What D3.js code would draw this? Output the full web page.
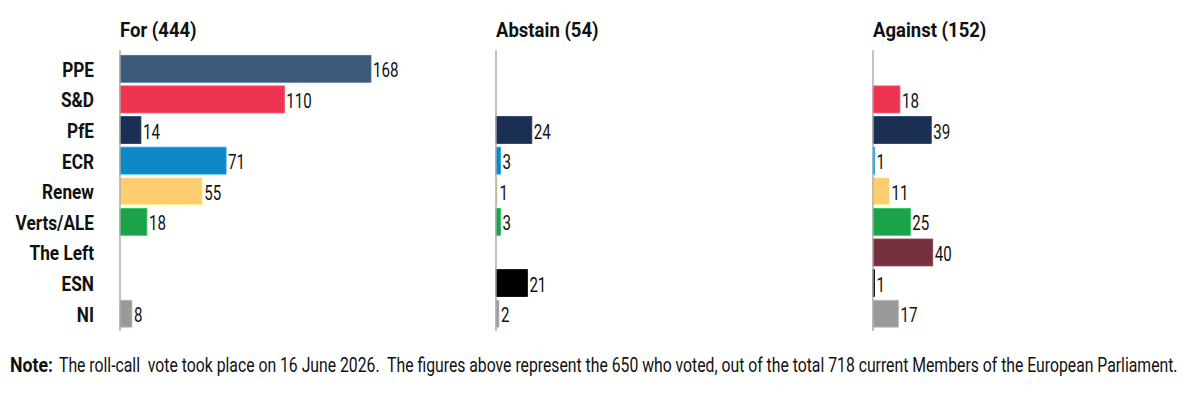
<!DOCTYPE html>
<html>
<head>
<meta charset="utf-8">
<script src="https://cdn.jsdelivr.net/npm/d3@7"></script>
<style>
  html, body { margin: 0; padding: 0; background: #ffffff; }
  svg { display: block; font-family: Roboto, "Noto Sans", sans-serif; }
</style>
</head>
<body>
<svg id="chart" width="1200" height="399"></svg>
<script>
const groups = ["PPE", "S&D", "PfE", "ECR", "Renew", "Verts/ALE", "The Left", "ESN", "NI"];
const groupColors = ["#3d5a7a", "#ee3450", "#1b2f55", "#0d88c6", "#ffcc70", "#1ca34a", "#74313d", "#000000", "#999999"];
const forVotes = [168, 110, 14, 71, 55, 18, 0, 0, 8];
const abstainVotes = [0, 0, 24, 3, 1, 3, 0, 21, 2];
const againstVotes = [0, 18, 39, 1, 11, 25, 40, 1, 17];
const panelTitles = ["For (444)", "Abstain (54)", "Against (152)"];
const noteLabel = "Note:";
const noteText = "The roll-call  vote took place on 16 June 2026.  The figures above represent the 650 who voted, out of the total 718 current Members of the European Parliament.";

const panels = [forVotes, abstainVotes, againstVotes];
const panelX = [120, 496, 873];

const svg = d3.select("#chart");

const y = d3.scaleBand().domain(groups).range([53.5, 329]).paddingInner(0.12).paddingOuter(0.06);
const x = d3.scaleLinear().domain([0, 168]).range([0, 251]);
const color = d3.scaleOrdinal().domain(groups).range(groupColors);

// horizontally compress text via transform (keeps real bounding boxes)
function squeeze(sel, f) {
  sel.each(function () {
    const x0 = +this.getAttribute("x") || 0;
    const y0 = +this.getAttribute("y") || 0;
    this.setAttribute("x", 0);
    this.setAttribute("y", 0);
    this.setAttribute("transform", `translate(${x0},${y0}) scale(${f},1)`);
  });
}
function fitWidth(sel, width) {
  sel.each(function () {
    const w = this.getComputedTextLength();
    d3.select(this).call(squeeze, width / w);
  });
}

// Row labels
const rowLabels = svg.append("g").selectAll("text")
  .data(groups).join("text")
  .attr("x", 94)
  .attr("y", d => y(d) + y.bandwidth() / 2 + 8)
  .attr("text-anchor", "end")
  .attr("font-size", 21)
  .attr("font-weight", 700)
  .attr("fill", "#111")
  .text(d => d);
squeeze(rowLabels, 0.82);

panels.forEach((vals, i) => {
  const g = svg.append("g").attr("transform", `translate(${panelX[i]},0)`);

  const title = g.append("text")
    .attr("x", 0).attr("y", 37)
    .attr("font-size", 19.5).attr("font-weight", 700).attr("fill", "#111")
    .text(panelTitles[i]);
  squeeze(title, 0.95);

  const data = groups.map((gname, j) => ({ g: gname, v: vals[j] }));

  g.selectAll("rect").data(data.filter(d => d.v > 0)).join("rect")
    .attr("x", x(0))
    .attr("y", d => y(d.g))
    .attr("width", d => x(d.v) - x(0))
    .attr("height", y.bandwidth())
    .attr("fill", d => color(d.g))
    .attr("stroke", d => d3.color(color(d.g)).brighter(0.6))
    .attr("stroke-width", 0.8);

  g.append("line")
    .attr("x1", x(0)).attr("x2", x(0))
    .attr("y1", 50).attr("y2", 331)
    .attr("stroke", "#a8a8a8").attr("stroke-width", 1.4);

  const vlab = g.selectAll("text.val").data(data.filter(d => d.v > 0)).join("text")
    .attr("class", "val")
    .attr("x", d => x(d.v) + 2)
    .attr("y", d => y(d.g) + y.bandwidth() / 2 + 8.5)
    .attr("font-size", 21)
    .attr("fill", "#111")
    .text(d => d.v);
  squeeze(vlab, 0.72);
});

// Note
const nl = svg.append("text")
  .attr("x", 10).attr("y", 372)
  .attr("font-size", 20).attr("font-weight", 700).attr("fill", "#111")
  .text(noteLabel);
fitWidth(nl, 43);

const nt = svg.append("text")
  .attr("x", 59).attr("y", 372)
  .attr("font-size", 20).attr("fill", "#111")
  .style("white-space", "pre")
  .text(noteText);
fitWidth(nt, 1119);
</script>
</body>
</html>
